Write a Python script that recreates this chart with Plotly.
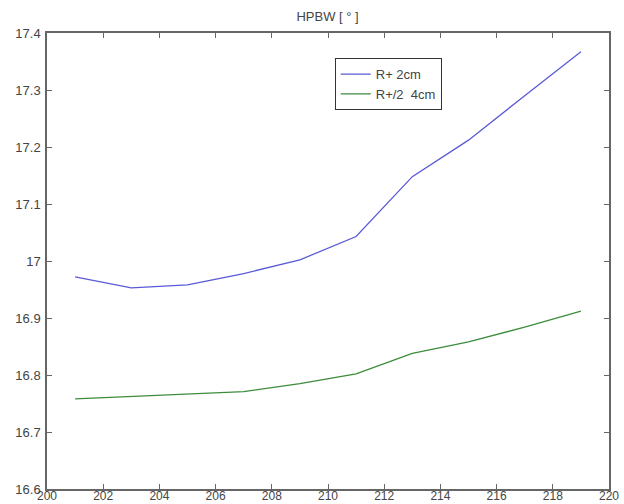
import plotly.graph_objects as go

freq = [201, 203, 205, 207, 209, 211, 213, 215, 217, 219]
hpbw_r2 = [16.972, 16.953, 16.958, 16.978, 17.002, 17.043, 17.148, 17.212, 17.290, 17.367]
hpbw_r4 = [16.758, 16.762, 16.766, 16.771, 16.785, 16.802, 16.838, 16.858, 16.884, 16.912]
series_names = ["R+ 2cm", "R+/2  4cm"]
x_ticks = [200, 202, 204, 206, 208, 210, 212, 214, 216, 218, 220]
y_ticks = [16.6, 16.7, 16.8, 16.9, 17.0, 17.1, 17.2, 17.3, 17.4]
y_ticktext = ["16.6", "16.7", "16.8", "16.9", "17", "17.1", "17.2", "17.3", "17.4"]

FONT = "Liberation Sans, Arial"

fig = go.Figure()
fig.add_trace(go.Scatter(x=freq, y=hpbw_r2, mode="lines", name=series_names[0],
                         line=dict(color="#5a5ad6", width=1.3)))
fig.add_trace(go.Scatter(x=freq, y=hpbw_r4, mode="lines", name=series_names[1],
                         line=dict(color="#3c8c3c", width=1.3)))

axis_common = dict(showgrid=False, zeroline=False, showline=True, linecolor="#666666",
                   linewidth=1.5, mirror="ticks", ticks="inside", ticklen=5,
                   tickcolor="#666666", automargin=False)

fig.update_xaxes(range=[200, 220], tickvals=x_ticks, ticktext=[str(v) for v in x_ticks],
                 ticklabelstandoff=-5,
                 tickfont=dict(family=FONT, size=12, color="#444444"), **axis_common)
fig.update_yaxes(range=[16.6, 17.4], tickvals=y_ticks, ticktext=y_ticktext,
                 ticklabelstandoff=2,
                 tickfont=dict(family=FONT, size=13, color="#444444"), **axis_common)

fig.update_layout(
    width=624, height=504,
    margin=dict(l=47, r=15, t=33, b=15),
    paper_bgcolor="white", plot_bgcolor="white",
    title=dict(text="HPBW [ ° ]", x=0.525, xanchor="center", y=0.968, yanchor="middle",
               font=dict(family=FONT, size=13, color="#444444")),
    legend=dict(x=0.512, y=0.945, xanchor="left", yanchor="top",
                bordercolor="#333333", borderwidth=1, bgcolor="white",
                font=dict(family=FONT, size=13, color="#444444"),
                tracegroupgap=0),
    showlegend=True,
)

fig.write_html("out.html")
